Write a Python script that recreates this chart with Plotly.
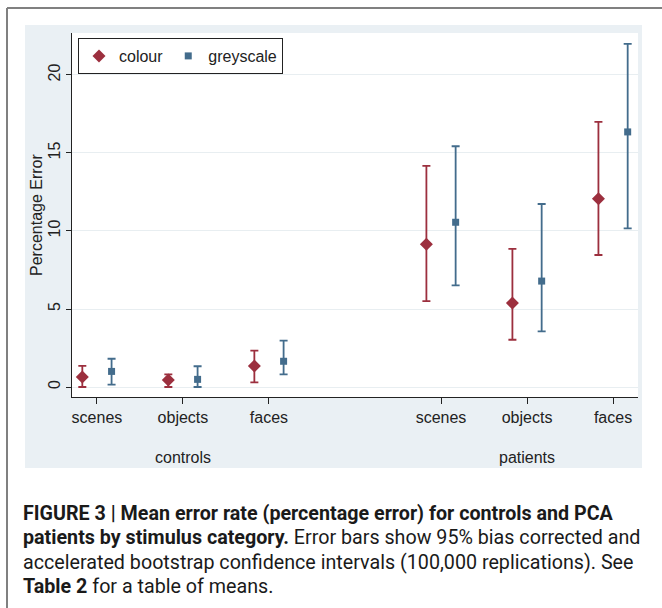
import plotly.graph_objects as go

# ---- data ----
categories = ["scenes", "objects", "faces", "scenes", "objects", "faces"]
groups = ["controls", "patients"]
x_pos = [1, 2, 3, 5, 6, 7]
group_pos = [2, 6]
offset = 0.17

colour_mean = [0.64, 0.45, 1.35, 9.15, 5.38, 12.07]
colour_hi = [1.35, 0.81, 2.33, 14.17, 8.85, 17.0]
colour_lo = [0.0, 0.0, 0.30, 5.51, 3.03, 8.46]

grey_mean = [1.00, 0.49, 1.65, 10.56, 6.79, 16.35]
grey_hi = [1.81, 1.33, 2.97, 15.43, 11.73, 21.99]
grey_lo = [0.15, 0.0, 0.81, 6.52, 3.57, 10.17]

y_ticks = [0, 5, 10, 15, 20]

RED = "#9c2f3e"
BLUE = "#436c8c"
PANEL = "#eaf0f4"
GRID = "#e8eef1"

W, H = 662, 608
L, R, T, B = 72, 638, 33, 397  # plot area pixels


def px(x):
    return (x - L) / (R - L)


def py(y):
    return (B - y) / (B - T)


fig = go.Figure()

fig.add_trace(go.Scatter(
    x=[v - offset for v in x_pos], y=colour_mean, mode="markers", name="colour",
    marker=dict(symbol="diamond", size=10, color=RED),
    error_y=dict(type="data", symmetric=False,
                 array=[h - m for h, m in zip(colour_hi, colour_mean)],
                 arrayminus=[m - l for m, l in zip(colour_mean, colour_lo)],
                 color=RED, thickness=1.8, width=4),
))
fig.add_trace(go.Scatter(
    x=[v + offset for v in x_pos], y=grey_mean, mode="markers", name="greyscale",
    marker=dict(symbol="square", size=7, color=BLUE),
    error_y=dict(type="data", symmetric=False,
                 array=[h - m for h, m in zip(grey_hi, grey_mean)],
                 arrayminus=[m - l for m, l in zip(grey_mean, grey_lo)],
                 color=BLUE, thickness=1.8, width=4),
))

shapes = [
    dict(type="rect", xref="paper", yref="paper", x0=px(25), x1=px(642), y0=py(468), y1=py(25),
         fillcolor=PANEL, line=dict(width=0), layer="below"),
    dict(type="rect", xref="paper", yref="paper", x0=0, x1=1, y0=0, y1=1,
         fillcolor="white", line=dict(width=0), layer="below"),
    dict(type="line", xref="paper", yref="paper", x0=px(7), x1=px(662), y0=py(8), y1=py(8),
         line=dict(color="#808080", width=2)),
    dict(type="line", xref="paper", yref="paper", x0=px(7), x1=px(7), y0=py(8), y1=py(608),
         line=dict(color="#808080", width=2)),
]

FONT = "Liberation Sans, Arial, sans-serif"
CAP_FONT = "Roboto, Liberation Sans, Arial, sans-serif"

annotations = []
for g, gx in zip(groups, group_pos):
    annotations.append(dict(x=gx, y=py(457), xref="x", yref="paper", text=g, showarrow=False,
                            font=dict(size=16, color="#222", family=FONT), yanchor="middle"))
annotations.append(dict(x=px(36), y=0.5, xref="paper", yref="paper", text="Percentage Error",
                        textangle=-90, showarrow=False,
                        font=dict(size=16, color="#222", family=FONT),
                        xanchor="center", yanchor="middle"))

caption_lines = [
    "<b>FIGURE 3 | Mean error rate (percentage error) for controls and PCA</b>",
    "<b>patients by stimulus category.</b> Error bars show 95% bias corrected and",
    "accelerated bootstrap confidence intervals (100,000 replications). See",
    "<b>Table 2</b> for a table of means.",
]
cap_y = [513, 537, 562, 586]
for txt, yy in zip(caption_lines, cap_y):
    annotations.append(dict(x=px(21), y=py(yy), xref="paper", yref="paper", text=txt,
                            showarrow=False, xanchor="left", yanchor="middle", align="left",
                            font=dict(size=19.7, color="#1a1a1a", family=CAP_FONT)))

fig.update_layout(
    width=W, height=H,
    margin=dict(l=L, r=W - R, t=T, b=H - B, pad=0),
    paper_bgcolor="white", plot_bgcolor="rgba(0,0,0,0)",
    showlegend=True,
    legend=dict(orientation="h", x=px(78), y=py(38), xanchor="left", yanchor="top",
                bgcolor="white", bordercolor="#222", borderwidth=1, itemwidth=30,
                font=dict(size=16, color="#222", family=FONT)),
    shapes=shapes, annotations=annotations,
    xaxis=dict(range=[0.71, 7.29], tickmode="array", tickvals=x_pos, ticktext=categories,
               showgrid=False, zeroline=False, showline=True, linecolor="#222", linewidth=1,
               ticks="outside", ticklen=6, tickcolor="#222",
               tickfont=dict(size=16, color="#222", family=FONT)),
    yaxis=dict(range=[-0.64, 22.69], tickmode="array", tickvals=y_ticks,
               showgrid=True, gridcolor=GRID, gridwidth=1, zeroline=False,
               showline=True, linecolor="#222", linewidth=1,
               ticks="outside", ticklen=5, tickcolor="#222", tickangle=-90,
               tickfont=dict(size=16, color="#222", family=FONT)),
)

fig.write_html("out.html", config={"displayModeBar": False},
               post_script="document.body.style.margin='0';")
